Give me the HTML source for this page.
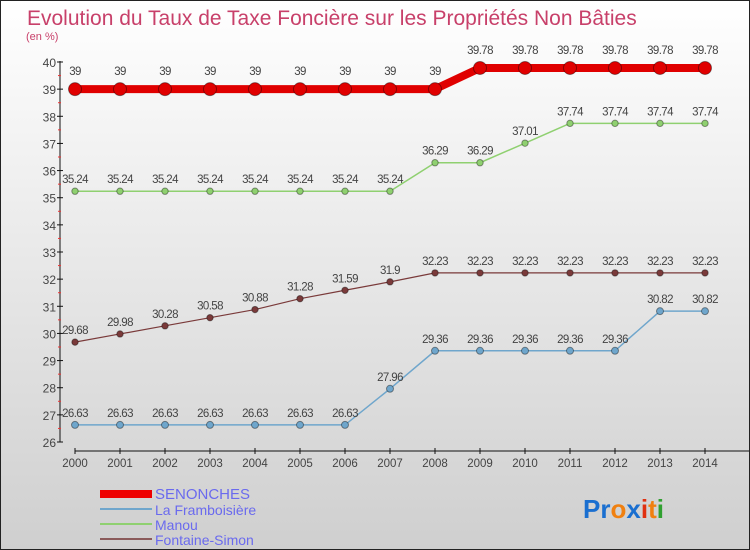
<!DOCTYPE html>
<html><head><meta charset="utf-8"><style>
body{margin:0;}
#c{width:748px;height:548px;border:1px solid #222;background:linear-gradient(#ffffff,#cfcfcf);position:relative;font-family:"Liberation Sans",sans-serif;overflow:hidden}
</style></head><body>
<div id="c">
<svg id="s" width="748" height="548" xmlns="http://www.w3.org/2000/svg">
<text x="26" y="24" font-size="21" fill="#c8406a">Evolution du Taux de Taxe Foncière sur les Propriétés Non Bâties</text>
<text x="25" y="39" font-size="11" fill="#c8406a">(en %)</text>
<g id="axes"></g><g id="series"></g>
<g>
<rect x="99" y="489" width="52" height="8" fill="#e00"/>
<text x="154" y="498" font-size="15" fill="#6a6aee">SENONCHES</text>
<line x1="99" y1="508" x2="151" y2="508" stroke="#6fa6cc" stroke-width="2"/>
<text x="154" y="514" font-size="14" fill="#6a6aee">La Framboisière</text>
<line x1="99" y1="523" x2="151" y2="523" stroke="#8fd070" stroke-width="2"/>
<text x="154" y="529" font-size="14" fill="#6a6aee">Manou</text>
<line x1="99" y1="538" x2="151" y2="538" stroke="#8a5a5a" stroke-width="2"/>
<text x="154" y="544" font-size="14" fill="#6a6aee">Fontaine-Simon</text>
</g>
<g font-size="26" font-weight="bold">
<text x="582" y="517"><tspan fill="#1a6fd0">Pr</tspan><tspan fill="#f08010">o</tspan><tspan fill="#1a6fd0">x</tspan><tspan fill="#e03010">i</tspan><tspan fill="#f08010">t</tspan><tspan fill="#30a030">i</tspan></text>
</g>
</svg>
</div>
<script>
const years=[2000,2001,2002,2003,2004,2005,2006,2007,2008,2009,2010,2011,2012,2013,2014];
const senonches=[39,39,39,39,39,39,39,39,39,39.78,39.78,39.78,39.78,39.78,39.78];
const framboisiere=[26.63,26.63,26.63,26.63,26.63,26.63,26.63,27.96,29.36,29.36,29.36,29.36,29.36,30.82,30.82];
const manou=[35.24,35.24,35.24,35.24,35.24,35.24,35.24,35.24,36.29,36.29,37.01,37.74,37.74,37.74,37.74];
const fontaine=[29.68,29.98,30.28,30.58,30.88,31.28,31.59,31.9,32.23,32.23,32.23,32.23,32.23,32.23,32.23];
const yTicks=[26,27,28,29,30,31,32,33,34,35,36,37,38,39,40];
const NS="http://www.w3.org/2000/svg";
const X=i=>74+45*i, Y=v=>441-(v-26)*(380/14);
function mk(t,a,p){const e=document.createElementNS(NS,t);for(const k in a)e.setAttribute(k,a[k]);p.appendChild(e);return e;}
const ax=document.getElementById('axes');
let l=mk('line',{x1:59,y1:60,x2:59,y2:441,stroke:'#111'},ax);


yTicks.forEach(v=>{
 mk('line',{x1:56,x2:62,y1:Y(v),y2:Y(v),stroke:'#111'},ax);
 if(v<40) mk('line',{x1:57,x2:60,y1:Y(v+0.5),y2:Y(v+0.5),stroke:'#e33'},ax);
 const t=mk('text',{x:55,y:Y(v)+5,'text-anchor':'end','font-size':12,fill:'#444'},ax);t.textContent=v;
 
 
});
l=mk('line',{x1:74,y1:450,x2:748,y2:450,stroke:'#111'},ax);


years.forEach((y,i)=>{
 mk('line',{x1:X(i),x2:X(i),y1:447,y2:453,stroke:'#111'},ax);
 const t=mk('text',{x:X(i),y:466,'text-anchor':'middle','font-size':11.5,fill:'#444'},ax);t.textContent=y;
 
 
});
const sg=document.getElementById('series');
function draw(vals,color,w,r,name,dy){
 const g=mk('g',{},sg);
 
 
 mk('polyline',{points:vals.map((v,i)=>X(i)+','+Y(v)).join(' '),fill:'none',stroke:color,'stroke-width':w},g);
 vals.forEach((v,i)=>{
  const c=mk('circle',{cx:X(i),cy:Y(v),r:r,fill:color,stroke:'rgba(0,0,0,0.4)','stroke-width':1},g);
  
  
  const t=mk('text',{x:X(i),y:Y(v)+dy,'text-anchor':'middle','font-size':11.5,fill:'#444','letter-spacing':'-0.6'},g);t.textContent=v;
  
  
 });
}
draw(fontaine,'#7a3a3a',1.2,3.2,'fontaine-simon',-8);
draw(manou,'#8fd070',1.5,3.2,'manou',-8);
draw(framboisiere,'#6fa6cc',1.5,3.5,'framboisiere',-8);
draw(senonches,'#e00000',8,6.5,'senonches',-14);
</script>
</body></html>
